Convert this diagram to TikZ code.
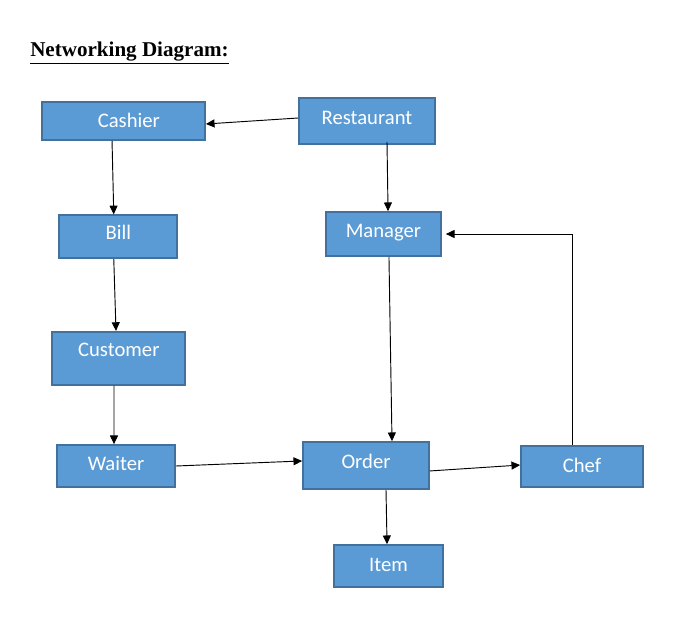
\documentclass[tikz,border=0pt]{standalone}
\usepackage{fontspec}
\setmainfont{Liberation Serif}
\newfontfamily\boxfont{Carlito}
\usetikzlibrary{arrows.meta}
\definecolor{boxfill}{HTML}{5B9BD5}
\definecolor{boxline}{HTML}{41719C}
\tikzset{
  box/.style 2 args={draw=boxline, fill=boxfill, line width=1.3pt, inner sep=0pt,
    minimum width=#1*0.75pt, minimum height=#2*0.75pt,
    text=white, font=\boxfont\fontsize{15.5}{18}\selectfont,
    text height=10pt, text depth=0pt},
  lift/.style={text depth=#1*1.5pt},
  link/.style={-{Triangle[length=6.5pt,width=6pt]}, line width=0.7pt}
}
\begin{document}
\begin{tikzpicture}[x=0.75pt, y=-0.75pt]
\useasboundingbox (0,0) rectangle (688,620);
% title
\node[anchor=base west, inner sep=0pt, font=\bfseries\fontsize{15.8}{19}\selectfont]
  (title) at (30,57) {\underline{Networking Diagram:}};

% the boxes
\node[box={163}{38}] (cashier) at (123.5,121) {\hspace*{8pt}Cashier};
\node[box={136}{46}, lift=3.5] (restaurant) at (367,121) {Restaurant};
\node[box={118}{43}, lift=3.5] (bill) at (118.3,236.7) {Bill};
\node[box={115}{44}, lift=3] (manager) at (383.5,234) {Manager};
\node[box={133}{53}, lift=8] (customer) at (118.8,358.3) {Customer};
\node[box={118}{42}, lift=2] (waiter) at (116,466) {Waiter};
\node[box={126}{47}, lift=4] (order) at (366,465.5) {Order};
\node[box={122}{41}, lift=1] (chef) at (582,466.5) {Chef};
\node[box={109}{42}, lift=1] (item) at (388.5,566) {Item};

% left column
\draw[link] ([yshift=2.25pt]restaurant.west) -- ([yshift=-2.25pt]cashier.east);
\draw[link] ([xshift=-8.6pt]cashier.south) -- ([xshift=-3.4pt]bill.north);
\draw[link] ([xshift=-3.4pt]bill.south) -- ([xshift=-2.1pt]customer.north);
\draw[link] ([xshift=-3.6pt]customer.south) -- ([xshift=-1.5pt]waiter.north);

% middle column
\draw[link] ([xshift=15pt,yshift=2.25pt]restaurant.south) -- ([xshift=3.4pt]manager.north);
\draw[link] ([xshift=4.1pt]manager.south) -- ([xshift=19.5pt]order.north);
\draw[link] ([xshift=15pt]order.south) -- ([xshift=-1.1pt]item.north);

% across the bottom row
\draw[link] (waiter.east) -- ([yshift=3.4pt]order.west);
\draw[link] ([yshift=-4.1pt]order.east) -- ([yshift=1.1pt]chef.west);

% back to the manager
\draw[link] ([xshift=-7.5pt]chef.north) |- ([xshift=3pt]manager.east);
\end{tikzpicture}
\end{document}
